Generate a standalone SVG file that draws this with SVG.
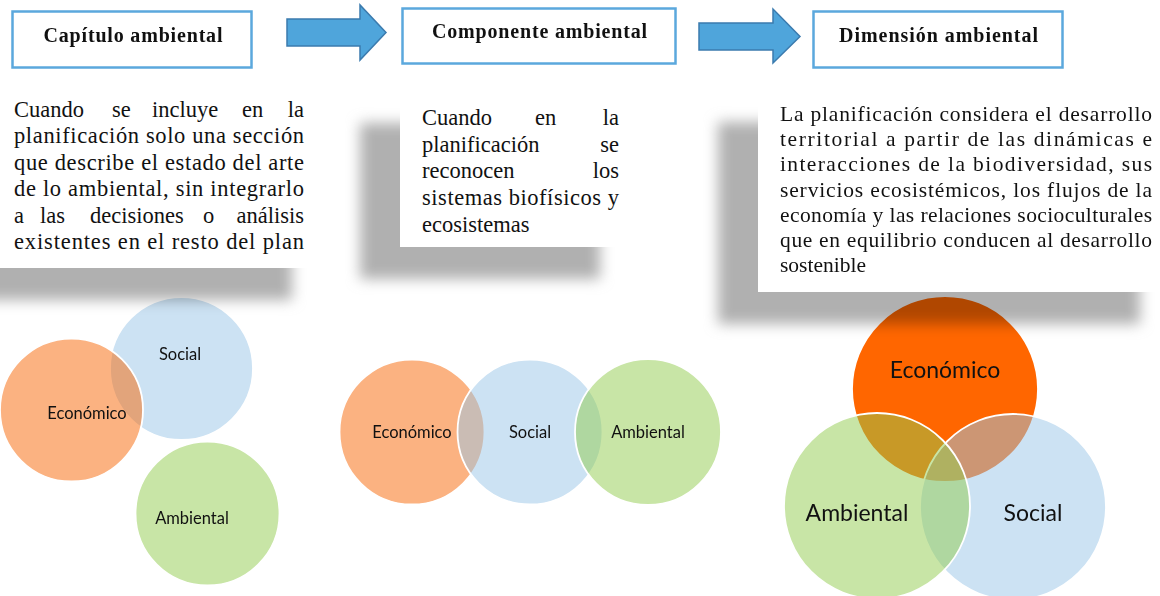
<svg xmlns="http://www.w3.org/2000/svg" width="1160" height="596" viewBox="0 0 1160 596">
<style>
.hdr{fill:#fff;stroke:#5BA8DD;stroke-width:2.5}
.ht{font-family:"Liberation Serif",serif;font-weight:bold;font-size:20px;fill:#111;text-anchor:middle}
.arr{fill:#4FA5DB;stroke:#3B7BAE;stroke-width:1.5;stroke-linejoin:miter}
.bt{font-family:"Liberation Serif",serif;font-size:22.5px;fill:#111}
.b3{font-family:"Liberation Serif",serif;font-size:21.5px;fill:#111}
.shd{fill:#b0b0b0;filter:url(#blur);mix-blend-mode:multiply}
.box{fill:#fff}
.c{stroke:#fff;stroke-width:1.8}
.eco{fill:#F76503;fill-opacity:.5}
.soc{fill:#99C5E7;fill-opacity:.5}
.amb{fill:#91CB4D;fill-opacity:.5}
.lb{font-family:Lato,"Open Sans",sans-serif;font-size:16.5px;fill:#111;text-anchor:middle}
.lb3{font-family:Lato,"Open Sans",sans-serif;font-size:23px;fill:#111;text-anchor:middle}
</style>
<defs>
<filter id="blur" x="-20%" y="-30%" width="140%" height="160%"><feGaussianBlur stdDeviation="7"/></filter>
</defs>
<rect width="1160" height="596" fill="#fff"/>

<!-- panel 1 circles -->
<g id="venn1">
<circle class="c soc" cx="181.5" cy="368.5" r="71.5"/>
<circle class="c eco" cx="71.5" cy="410" r="71.5"/>
<circle class="c amb" cx="207.5" cy="513.5" r="72"/>
<text class="lb" x="180" y="359.5">Social</text>
<text class="lb" x="87" y="419">Económico</text>
<text class="lb" x="192" y="524">Ambiental</text>
</g>

<!-- panel 2 circles -->
<g id="venn2">
<circle class="c eco" cx="412" cy="432" r="72.5"/>
<circle class="c soc" cx="530" cy="432" r="72.5"/>
<circle class="c amb" cx="648" cy="432" r="73"/>
<text class="lb" x="412" y="437.5">Económico</text>
<text class="lb" x="530" y="437.5">Social</text>
<text class="lb" x="648" y="437.5">Ambiental</text>
</g>

<!-- panel 3 circles -->
<g id="venn3">
<circle class="c" fill="#FF6600" cx="945" cy="389" r="93"/>
<circle class="c soc" cx="1013" cy="507" r="93"/>
<circle class="c amb" cx="877" cy="506" r="93"/>
<text class="lb3" x="945" y="378">Económico</text>
<text class="lb3" x="857" y="521">Ambiental</text>
<text class="lb3" x="1033" y="521">Social</text>
</g>

<!-- description boxes -->
<g id="desc1">
<rect class="shd" x="-60" y="118" width="352" height="182"/>
<rect class="box" x="-20" y="88" width="352" height="180"/>
<text class="bt" y="116.5"><tspan x="14">Cuando</tspan><tspan x="112">se</tspan><tspan x="152">incluye</tspan><tspan x="242">en</tspan><tspan x="304" text-anchor="end">la</tspan></text>
<text class="bt" x="14" y="143" textLength="290" lengthAdjust="spacing">planificación solo una sección</text>
<text class="bt" x="14" y="169.5" textLength="290" lengthAdjust="spacing">que describe el estado del arte</text>
<text class="bt" x="14" y="196" textLength="290" lengthAdjust="spacing">de lo ambiental, sin integrarlo</text>
<text class="bt" y="222.5"><tspan x="14">a</tspan><tspan x="40">las</tspan><tspan x="90">decisiones</tspan><tspan x="203">o</tspan><tspan x="304" text-anchor="end">análisis</tspan></text>
<text class="bt" x="14" y="249" textLength="290" lengthAdjust="spacing">existentes en el resto del plan</text>
</g>

<g id="desc2">
<rect class="shd" x="360" y="123" width="240" height="156"/>
<rect class="box" x="400" y="93" width="240" height="154"/>
<text class="bt" y="125"><tspan x="422">Cuando</tspan><tspan x="535">en</tspan><tspan x="619" text-anchor="end">la</tspan></text>
<text class="bt" y="151.7"><tspan x="422">planificación</tspan><tspan x="619" text-anchor="end">se</tspan></text>
<text class="bt" y="178.4"><tspan x="422">reconocen</tspan><tspan x="619" text-anchor="end">los</tspan></text>
<text class="bt" x="422" y="205" textLength="197" lengthAdjust="spacing">sistemas biofísicos y</text>
<text class="bt" x="422" y="231.8">ecosistemas</text>
</g>

<g id="desc3">
<rect class="shd" x="718" y="122" width="422" height="202"/>
<rect class="box" x="758" y="92" width="422" height="200"/>
<text class="b3" x="780" y="121" textLength="372" lengthAdjust="spacing">La planificación considera el desarrollo</text>
<text class="b3" x="780" y="146.2" textLength="372" lengthAdjust="spacing">territorial a partir de las dinámicas e</text>
<text class="b3" x="780" y="171.4" textLength="372" lengthAdjust="spacing">interacciones de la biodiversidad, sus</text>
<text class="b3" x="780" y="196.6" textLength="372" lengthAdjust="spacing">servicios ecosistémicos, los flujos de la</text>
<text class="b3" x="780" y="221.8" textLength="372" lengthAdjust="spacing">economía y las relaciones socioculturales</text>
<text class="b3" x="780" y="247" textLength="372" lengthAdjust="spacing">que en equilibrio conducen al desarrollo</text>
<text class="b3" x="780" y="272.2">sostenible</text>
</g>

<!-- header nodes -->
<g id="hdr1">
<rect class="hdr" x="12.5" y="11.5" width="239" height="56"/>
<text class="ht" x="133" y="42" textLength="179" lengthAdjust="spacing">Capítulo ambiental</text>
</g>
<g id="hdr2">
<rect class="hdr" x="402.5" y="8.5" width="273" height="55"/>
<text class="ht" x="539.5" y="38" textLength="215" lengthAdjust="spacing">Componente ambiental</text>
</g>
<g id="hdr3">
<rect class="hdr" x="813.5" y="11.5" width="249" height="56"/>
<text class="ht" x="938.5" y="42" textLength="199" lengthAdjust="spacing">Dimensión ambiental</text>
</g>

<!-- connectors -->
<g id="connectors">
<polygon class="arr" points="287,19 360,19 360,5 386,32.5 360,60 360,46 287,46"/>
<polygon class="arr" points="699,23 773,23 773,9 800,36.5 773,63 773,50 699,50"/>
</g>
</svg>
